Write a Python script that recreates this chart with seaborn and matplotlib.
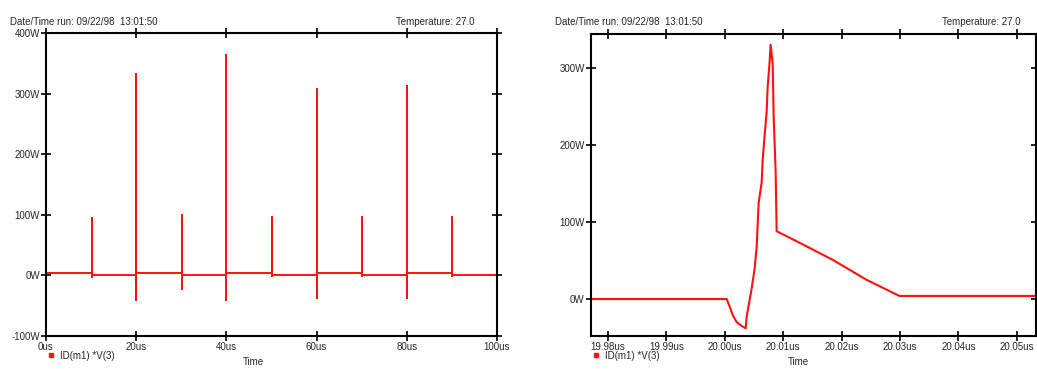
import numpy as np
import pandas as pd
import matplotlib
matplotlib.use("Agg")
import matplotlib.pyplot as plt
import seaborn as sns
from matplotlib.lines import Line2D

sns.set_theme(style="white")
plt.rcParams['font.family'] = ['Liberation Sans', 'DejaVu Sans']

# ---------------- data: left panel (0..100 us) ----------------
spike_times_us = [0.0, 10.1, 20.0, 30.1, 40.0, 50.1, 60.1, 70.1, 80.0, 90.0]
spike_peaks_W = [368, 94, 332, 99, 364, 96, 307, 96, 312, 96]
spike_troughs_W = [-41, -3, -40, -23, -40, -1, -38, -1, -38, -1]
baseline_W = [3.5, 0.0, 3.5, 0.0, 3.5, 0.0, 3.5, 0.0, 3.5, 0.0]
end_time_us = 100.0

# ---------------- data: right panel (zoom around 20 us) ----------------
zoom_t_us = [19.977, 20.00034, 20.00085, 20.00137, 20.00205, 20.00291, 20.00359,
             20.00376, 20.00427, 20.00462, 20.00513, 20.00547, 20.00581, 20.00632,
             20.00650, 20.00684, 20.00718, 20.00735, 20.00769, 20.00786, 20.00821,
             20.00838, 20.00872, 20.00889, 20.01282, 20.01846, 20.02427, 20.02991,
             20.0535]
zoom_W = [0, 0, -10, -21, -30, -35, -38,
          -23, -1, 14, 40, 68, 125, 151,
          181, 213, 243, 275, 308, 330, 306,
          236, 165, 88, 73, 51, 25, 4,
          4]

left_yticks = [-100, 0, 100, 200, 300, 400]
left_ytick_labels = ["-100W", "0W", "100W", "200W", "300W", "400W"]
left_xticks = [0, 20, 40, 60, 80, 100]
left_xtick_labels = ["0us", "20us", "40us", "60us", "80us", "100us"]
right_yticks = [0, 100, 200, 300]
right_ytick_labels = ["0W", "100W", "200W", "300W"]
right_xticks = [19.98, 19.99, 20.00, 20.01, 20.02, 20.03, 20.04, 20.05]
right_xtick_labels = ["19.98us", "19.99us", "20.00us", "20.01us", "20.02us",
                      "20.03us", "20.04us", "20.05us"]
header_left = "Date/Time run: 09/22/98  13:01:50"
header_right = "Temperature: 27.0"
legend_label = "ID(m1) *V(3)"

# build left waveform from the arrays
t_pts, w_pts = [], []
for i, t in enumerate(spike_times_us):
    prev_base = baseline_W[i - 1] if i > 0 else baseline_W[0]
    t_pts += [t, t, t, t]
    w_pts += [prev_base, spike_peaks_W[i], spike_troughs_W[i], baseline_W[i]]
t_pts.append(end_time_us)
w_pts.append(baseline_W[-1])
df_left = pd.DataFrame({"t": t_pts, "W": w_pts})
df_right = pd.DataFrame({"t": zoom_t_us, "W": zoom_W})

W, H = 1037, 369
fig = plt.figure(figsize=(W / 100, H / 100), dpi=100)
RED = "#ff1010"
FS = 7

ax1 = fig.add_axes([46 / W, 1 - 336 / H, (497 - 46) / W, (336 - 33) / H])
ax2 = fig.add_axes([591 / W, 1 - 336 / H, (1036 - 591) / W, (336 - 34) / H])

sns.lineplot(data=df_left, x="t", y="W", ax=ax1, color=RED, lw=1.4,
             estimator=None, sort=False)
sns.lineplot(data=df_right, x="t", y="W", ax=ax2, color=RED, lw=1.5,
             estimator=None, sort=False)

ax1.set_xlim(0, 100)
ax1.set_ylim(-100, 400)
ax1.set_xticks(left_xticks)
ax1.set_xticklabels(left_xtick_labels)
ax1.set_yticks(left_yticks)
ax1.set_yticklabels(left_ytick_labels)

ax2.set_xlim(19.9771, 20.0533)
ax2.set_ylim(-48, 344)
ax2.set_xticks(right_xticks)
ax2.set_xticklabels(right_xtick_labels)
ax2.set_yticks(right_yticks)
ax2.set_yticklabels(right_ytick_labels)

for ax in (ax1, ax2):
    for s in ax.spines.values():
        s.set_color("black")
        s.set_linewidth(1.5)
        s.set_visible(True)
    ax.tick_params(axis="both", which="both", direction="inout", length=7,
                   width=1.2, color="black", labelsize=FS, pad=1,
                   top=True, right=True, bottom=True, left=True,
                   labeltop=False, labelright=False)
    ax.set_xlabel("Time", fontsize=FS)
    ax.set_ylabel("")
    handle = Line2D([], [], marker="s", color=RED, linestyle="none",
                    markersize=3.5, markerfacecolor=RED)
    ax.legend([handle], [legend_label], loc="upper left",
              bbox_to_anchor=(0.0, -0.045), frameon=False, fontsize=FS,
              handlelength=0.8, handletextpad=0.5, borderaxespad=0,
              borderpad=0.1)

ax1.xaxis.set_label_coords((253 - 46) / (497 - 46), -0.068)
ax2.xaxis.set_label_coords((798 - 591) / (1036 - 591), -0.068)

fig.text(10 / W, 1 - 22 / H, header_left, fontsize=FS, va="center", ha="left")
fig.text(475 / W, 1 - 22 / H, header_right, fontsize=FS, va="center", ha="right")
fig.text(555 / W, 1 - 22 / H, header_left, fontsize=FS, va="center", ha="left")
fig.text(1020 / W, 1 - 22 / H, header_right, fontsize=FS, va="center", ha="right")

fig.savefig("out.png", dpi=100)
